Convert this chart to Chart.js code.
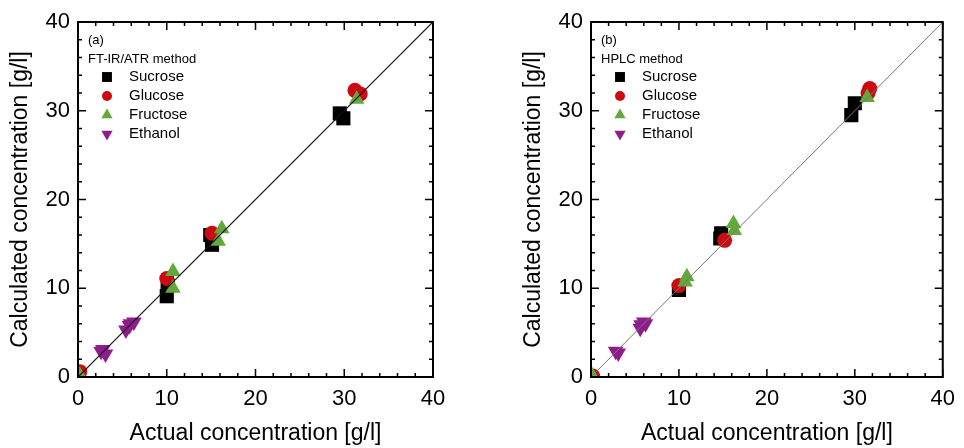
<!DOCTYPE html>
<html lang="en">
  <head>
    <meta charset="UTF-8" />
    <title>Actual vs calculated concentration</title>
    <style>
      body { margin: 0; background: #fff; }
      .panel { position: absolute; top: 0; width: 482px; height: 448px; }
    </style>
  </head>
  <body>
    <div class="panel" style="left: 0"><canvas id="chartA" width="482" height="448"></canvas></div>
    <div class="panel" style="left: 482px"><canvas id="chartB" width="482" height="448"></canvas></div>
  </body>
  <script src="https://cdn.jsdelivr.net/npm/chart.js"></script>
  <script>
    // series names and axis ticks
    let seriesNames = ["Sucrose", "Glucose", "Fructose", "Ethanol"];
    let axisTicks = [0, 10, 20, 30, 40];
    let minorStep = 2;
    let parityLine = [0, 40];

    // (a) FT-IR/ATR method, [actual, calculated] in g/l
    let ftirSucrose = [[0, 0], [10.0, 9.1], [10.1, 10.3], [14.9, 16.0], [15.1, 14.9], [29.5, 29.7], [29.9, 29.15]];
    let ftirGlucose = [[0.2, 0.6], [10.0, 11.1], [15.1, 16.2], [31.2, 32.3], [31.8, 31.9]];
    let ftirFructose = [[0.2, 0.2], [10.7, 11.9], [10.7, 10.0], [16.2, 16.7], [15.8, 15.3], [31.4, 31.3]];
    let ftirEthanol = [[2.6, 2.9], [3.1, 2.6], [2.8, 3.1], [5.4, 5.3], [5.8, 5.8], [6.3, 6.2], [5.9, 6.0]];

    // (b) HPLC method
    let hplcSucrose = [[0, 0], [10.0, 9.8], [14.8, 16.2], [14.7, 15.6], [30.0, 30.85], [29.6, 29.5]];
    let hplcGlucose = [[0.2, 0.1], [10.0, 10.3], [15.2, 15.4], [31.7, 32.5], [31.5, 32.0]];
    let hplcFructose = [[0.1, 0.2], [10.9, 11.3], [10.7, 10.7], [16.2, 17.3], [16.3, 16.5], [31.4, 31.5]];
    let hplcEthanol = [[2.8, 2.9], [3.1, 2.7], [5.6, 5.5], [6.0, 6.2], [6.2, 6.0], [5.7, 5.9]];

    // marker look for each series (same order as seriesNames)
    let seriesStyles = [
      { pointStyle: "rect", rotation: 0, radius: 10, legendRadius: 7, color: "#000000" },
      { pointStyle: "circle", rotation: 0, radius: 7.5, legendRadius: 5, color: "#cc0a12" },
      { pointStyle: "triangle", rotation: 0, radius: 9, legendRadius: 6.5, color: "#62a83a" },
      { pointStyle: "triangle", rotation: 180, radius: 9, legendRadius: 6.5, color: "#8e1d8c" },
    ];

    Chart.defaults.font.family = "'Liberation Sans', Arial, sans-serif";
    Chart.defaults.color = "#000";

    // closed frame with inward ticks on all four sides
    const frameTicks = {
      id: "frameTicks",
      afterDatasetsDraw(chart) {
        const { ctx, chartArea: a, scales } = chart;
        ctx.save();
        ctx.strokeStyle = "#000";
        ctx.lineWidth = 1.5;
        ctx.beginPath();
        for (let v = axisTicks[0]; v <= axisTicks[axisTicks.length - 1]; v += minorStep) {
          const len = axisTicks.includes(v) ? 8 : 4;
          const px = scales.x.getPixelForValue(v);
          const py = scales.y.getPixelForValue(v);
          ctx.moveTo(px, a.bottom); ctx.lineTo(px, a.bottom - len);
          ctx.moveTo(px, a.top); ctx.lineTo(px, a.top + len);
          ctx.moveTo(a.left, py); ctx.lineTo(a.left + len, py);
          ctx.moveTo(a.right, py); ctx.lineTo(a.right - len, py);
        }
        ctx.stroke();
        ctx.lineWidth = 2;
        ctx.strokeRect(a.left, a.top, a.right - a.left, a.bottom - a.top);
        ctx.restore();
      },
    };

    // legend inside the plot, top left
    const insetLegend = {
      id: "insetLegend",
      afterDraw(chart, args, opts) {
        const { ctx, chartArea: a } = chart;
        ctx.save();
        ctx.fillStyle = "#000";
        ctx.textBaseline = "middle";
        ctx.textAlign = "left";
        ctx.font = "13px 'Liberation Sans', Arial, sans-serif";
        ctx.fillText(opts.title[0], a.left + 10, a.top + 18);
        ctx.fillText(opts.title[1], a.left + 10, a.top + 37);
        ctx.font = "15px 'Liberation Sans', Arial, sans-serif";
        seriesNames.forEach((name, i) => {
          const s = seriesStyles[i];
          const y = a.top + 55 + i * 19;
          ctx.fillStyle = s.color;
          Chart.helpers.drawPoint(ctx, { pointStyle: s.pointStyle, rotation: s.rotation, radius: s.legendRadius, borderWidth: 0 }, a.left + 29, y);
          ctx.fillStyle = "#000";
          ctx.fillText(name, a.left + 51, y);
        });
        ctx.restore();
      },
    };

    function makeChart(id, series, legendTitle, lineColor, lineWidth, yAxisWidth, yTitlePad, rightPad) {
      let datasets = [
        {
          type: "line",
          label: "1:1",
          data: parityLine.map((v) => ({ x: v, y: v })),
          borderColor: lineColor,
          borderWidth: lineWidth,
          pointRadius: 0,
          order: 0,
        },
      ];
      series.forEach((pts, i) => {
        const s = seriesStyles[i];
        datasets.push({
          label: seriesNames[i],
          data: pts.map((p) => ({ x: p[0], y: p[1] })),
          pointStyle: s.pointStyle,
          rotation: s.rotation,
          pointRadius: s.radius,
          pointHoverRadius: s.radius,
          backgroundColor: s.color,
          borderColor: s.color,
          borderWidth: 0,
          clip: 0,
          order: 4 - i,
        });
      });

      return new Chart(document.getElementById(id), {
        type: "scatter",
        data: { datasets: datasets },
        options: {
          responsive: false,
          animation: false,
          layout: { padding: { top: 22, right: rightPad, left: 0, bottom: 0 } },
          plugins: {
            legend: { display: false },
            tooltip: { enabled: false },
            insetLegend: { title: legendTitle },
          },
          scales: {
            x: {
              type: "linear",
              min: axisTicks[0],
              max: axisTicks[axisTicks.length - 1],
              ticks: { stepSize: 10, padding: 9, font: { size: 22 } },
              grid: { display: false, drawTicks: false },
              border: { display: false },
              title: { display: true, text: "Actual concentration [g/l]", font: { size: 23 }, padding: { top: 0, bottom: 1 } },
              afterFit(scale) { scale.height = 71; },
            },
            y: {
              type: "linear",
              min: axisTicks[0],
              max: axisTicks[axisTicks.length - 1],
              ticks: { stepSize: 10, padding: 8, font: { size: 22 } },
              grid: { display: false, drawTicks: false },
              border: { display: false },
              title: { display: true, text: "Calculated concentration [g/l]", font: { size: 23 }, padding: { top: yTitlePad, bottom: 0 } },
              afterFit(scale) { scale.width = yAxisWidth; },
            },
          },
        },
        plugins: [frameTicks, insetLegend],
      });
    }

    makeChart("chartA", [ftirSucrose, ftirGlucose, ftirFructose, ftirEthanol], ["(a)", "FT-IR/ATR method"], "#111", 1.2, 78, 7, 49);
    makeChart("chartB", [hplcSucrose, hplcGlucose, hplcFructose, hplcEthanol], ["(b)", "HPLC method"], "#777", 1, 109, 38, 16);
  </script>
</html>
